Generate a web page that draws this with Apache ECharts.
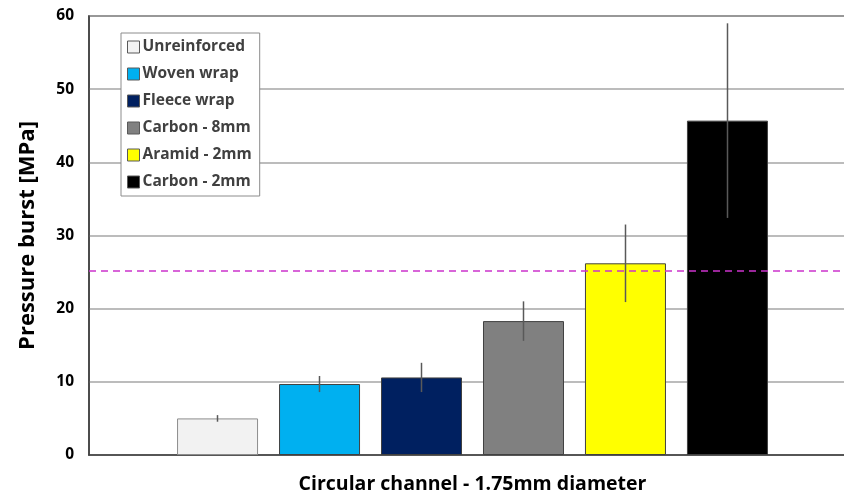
<!DOCTYPE html>
<html>
<head>
<meta charset="utf-8">
<script src="https://cdn.jsdelivr.net/npm/echarts@6/dist/echarts.min.js"></script>
<style>html,body{margin:0;padding:0;background:#fff}#c{width:844px;height:496px}</style>
</head>
<body>
<div id="c"></div>
<script>
const categories = ['Circular channel - 1.75mm diameter'];
const seriesNames = ['Unreinforced', 'Woven wrap', 'Fleece wrap', 'Carbon - 8mm', 'Aramid - 2mm', 'Carbon - 2mm'];
const burstMean = [5.0, 9.7, 10.6, 18.3, 26.2, 45.7];
const burstErr = [0.45, 1.1, 2.0, 2.7, 5.3, 13.3];
const thresholdValue = 25.2;
const yMin = 0, yMax = 60, yInterval = 10;

const colors = ['#F2F2F2', '#00B0F0', '#002060', '#808080', '#FFFF00', '#000000'];
const barWidth = 81;
const barGapPx = 21;
const FONT = 'Open Sans';

const chart = echarts.init(document.getElementById('c'));

const barSeries = seriesNames.map((name, i) => ({
  name: name,
  type: 'bar',
  data: [burstMean[i]],
  barWidth: barWidth,
  barGap: (barGapPx / barWidth * 100).toFixed(1) + '%',
  itemStyle: { color: colors[i], borderColor: i === 0 ? '#8c8c8c' : '#404040', borderWidth: 1 },
  emphasis: { disabled: true },
  markLine: i === 0 ? {
    silent: true,
    symbol: ['none', 'none'],
    label: { show: false },
    lineStyle: { color: '#CC33CC', type: [7, 5], width: 1.5 },
    data: [{ yAxis: thresholdValue }]
  } : undefined,
  z: 2
}));

const errData = burstMean.map((m, i) => [0, m - burstErr[i], m + burstErr[i], i]);

const errSeries = {
  type: 'custom',
  name: 'err',
  data: errData,
  encode: { x: 0, y: [1, 2] },
  z: 5,
  renderItem: function (params, api) {
    const idx = api.value(3);
    const lo = api.coord([api.value(0), api.value(1)]);
    const hi = api.coord([api.value(0), api.value(2)]);
    const n = seriesNames.length;
    const off = (idx - (n - 1) / 2) * (barWidth + barGapPx);
    return {
      type: 'line',
      shape: { x1: lo[0] + off, y1: lo[1], x2: hi[0] + off, y2: hi[1] },
      style: { stroke: '#595959', lineWidth: 1.5 }
    };
  }
};

chart.setOption({
  animation: false,
  backgroundColor: '#fff',
  grid: { left: 89, right: -12, top: 16, bottom: 41, containLabel: false, outerBoundsMode: 'none', show: true, borderColor: '#404040', borderWidth: 1.5 },
  legend: {
    data: seriesNames,
    orient: 'vertical',
    left: 121, top: 33,
    padding: [6, 8, 6, 6],
    itemGap: 11,
    itemWidth: 12, itemHeight: 12,
    icon: 'rect',
    backgroundColor: '#fff',
    borderColor: '#8c8c8c', borderWidth: 1,
    textStyle: { fontFamily: FONT, fontWeight: 'bold', fontSize: 15.5, color: '#404040', padding: [0, 0, 0, -2] },
    itemStyle: { borderColor: '#595959', borderWidth: 1 }
  },
  xAxis: {
    type: 'category',
    data: categories,
    axisLine: { lineStyle: { color: '#404040', width: 1.5 } },
    axisTick: { show: false },
    axisLabel: { show: false },
    name: categories[0],
    nameLocation: 'middle',
    nameGap: 19,
    nameTextStyle: { fontFamily: FONT, fontWeight: 'bold', fontSize: 19.5, color: '#000' }
  },
  yAxis: {
    type: 'value',
    min: yMin, max: yMax, interval: yInterval,
    axisLine: { show: true, lineStyle: { color: '#404040', width: 1.5 } },
    axisTick: { show: false },
    axisLabel: { fontFamily: FONT, fontWeight: 'bold', fontSize: 15.5, color: '#000', margin: 15 },
    splitLine: { lineStyle: { color: '#A6A6A6', width: 1.5 } },
    name: 'Pressure burst [MPa]',
    nameLocation: 'middle',
    nameGap: 50,
    nameTextStyle: { fontFamily: FONT, fontWeight: 'bold', fontSize: 22, color: '#000' }
  },
  series: barSeries.concat([errSeries])
});
</script>
</body>
</html>
